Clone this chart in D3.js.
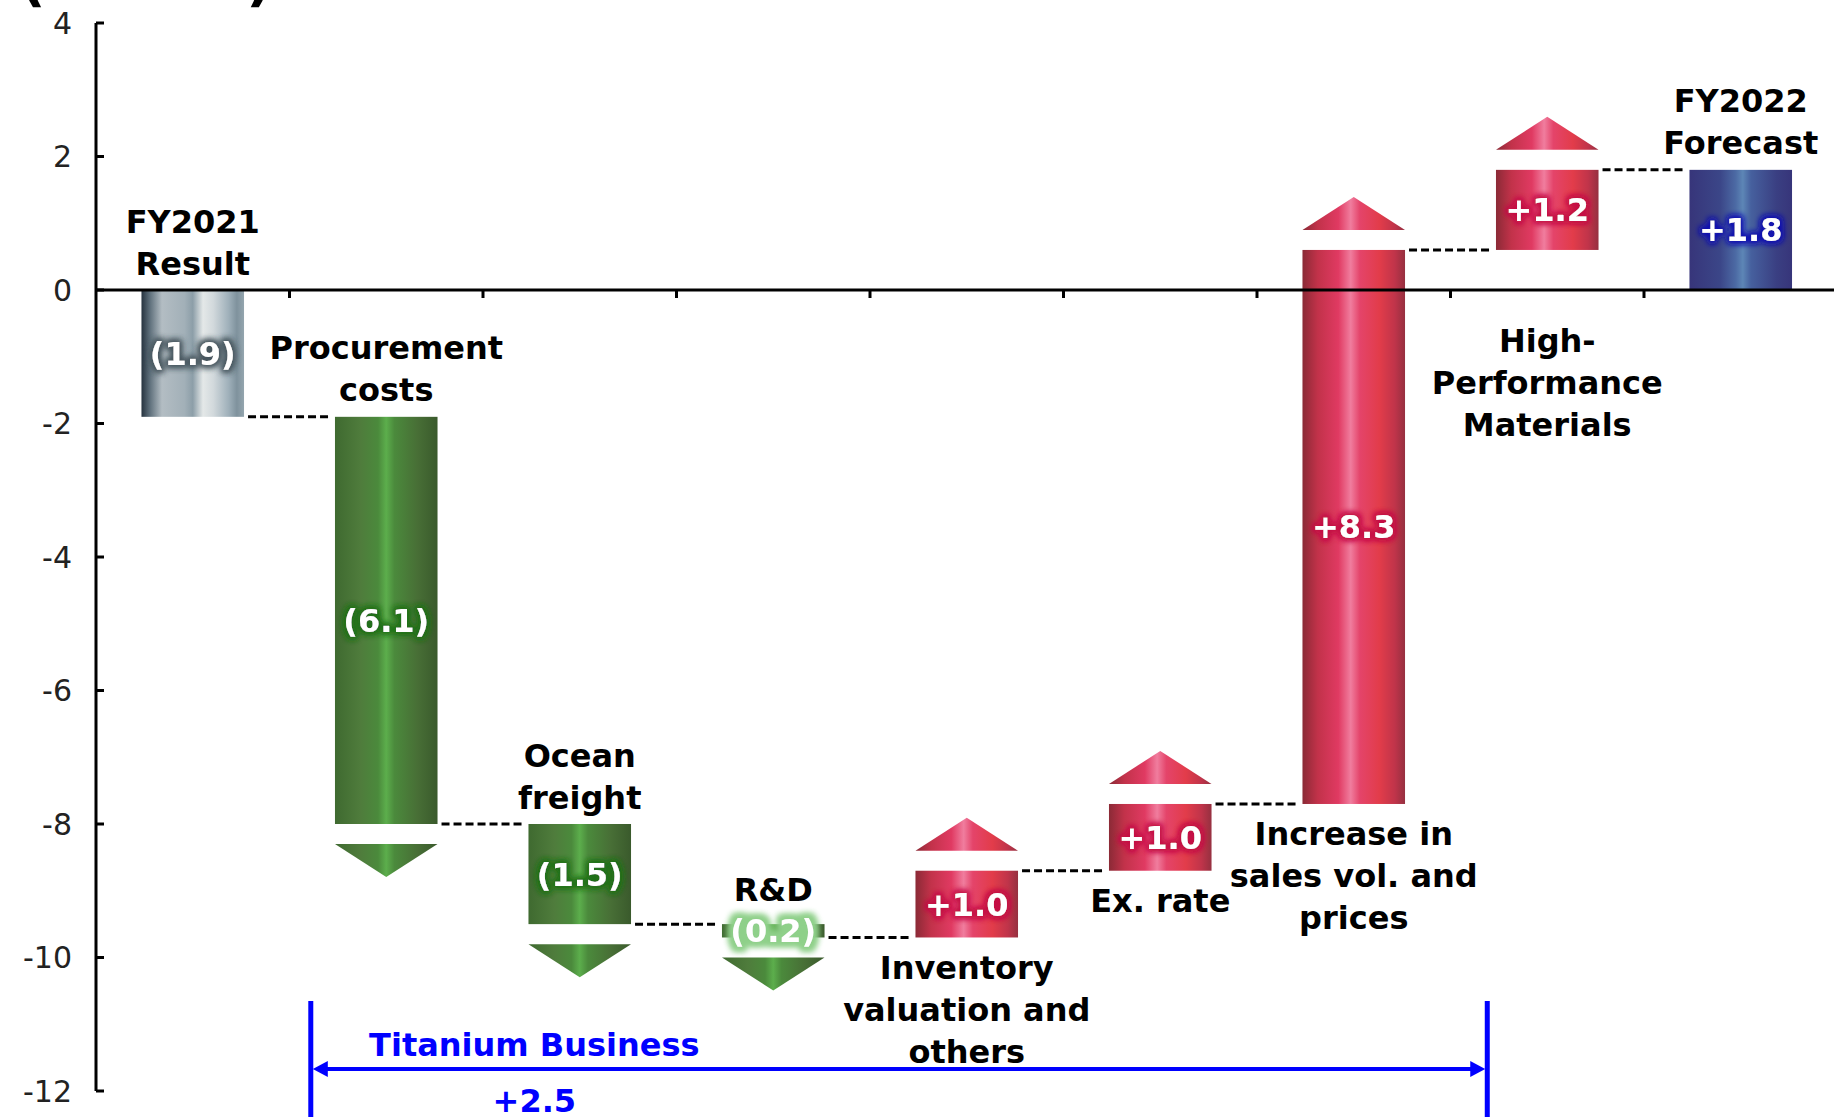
<!DOCTYPE html>
<html>
<head>
<meta charset="utf-8">
<script src="https://cdn.jsdelivr.net/npm/d3@7"></script>
<style>
  html, body { margin: 0; padding: 0; background: #fff; }
  svg { display: block; }
</style>
</head>
<body>
<div id="chart"></div>
<script>
// waterfall data (billion yen)
const categories = [
  "FY2021|Result",
  "Procurement|costs",
  "Ocean|freight",
  "R&D",
  "Inventory|valuation and|others",
  "Ex. rate",
  "Increase in|sales vol. and|prices",
  "High-|Performance|Materials",
  "FY2022|Forecast"
];
const deltas = [-1.9, -6.1, -1.5, -0.2, 1.0, 1.0, 8.3, 1.2, 1.8];
const kinds = ["result", "down", "down", "down", "up", "up", "up", "up", "forecast"];
const valueLabels = ["(1.9)", "(6.1)", "(1.5)", "(0.2)", "+1.0", "+1.0", "+8.3", "+1.2", "+1.8"];
const yTicks = [4, 2, 0, -2, -4, -6, -8, -10, -12];
const titaniumItems = ["Procurement|costs", "Ocean|freight", "R&D", "Inventory|valuation and|others", "Ex. rate", "Increase in|sales vol. and|prices"];

const width = 1834, height = 1117;
const marginLeft = 96, marginTop = 23;

// build start / end for each bar
let run = 0;
const bars = categories.map((c, i) => {
  let start, end;
  if (kinds[i] === "result" || kinds[i] === "forecast") {
    start = 0; end = deltas[i];
  } else {
    start = run; end = run + deltas[i];
  }
  run = end;
  return { cat: c, kind: kinds[i], start, end, label: valueLabels[i], i };
});

const x = d3.scaleBand().domain(categories).range([marginLeft, marginLeft + 193.5 * categories.length]).paddingInner(0).paddingOuter(0);
const y = d3.scaleLinear().domain([4, -12]).range([marginTop, marginTop + 66.75 * 16]);
const step = x.step();
const barW = step * 0.53;
const bx = d => x(d.cat) + (step - barW) / 2;

const svg = d3.select("#chart").append("svg")
  .attr("width", width)
  .attr("height", height)
  .attr("font-family", "'DejaVu Sans', Verdana, sans-serif");

const defs = svg.append("defs");

// cylinder-like gradients
const grads = {
  gray: [[0, "#26333f"], [0.08, "#5d6e7a"], [0.2, "#b3bdc3"], [0.42, "#a2b0b8"], [0.5, "#8c9ea8"], [0.6, "#e4e8e8"], [0.7, "#d2d9dc"], [0.85, "#9fb0ba"], [0.93, "#7f929d"], [1, "#94a5ae"]],
  green: [[0, "#3f6a30"], [0.25, "#4f7c3c"], [0.42, "#4b8a3c"], [0.5, "#5cae4c"], [0.58, "#4b8a3c"], [0.8, "#486f36"], [1, "#3a5a2c"]],
  red: [[0, "#8b2a36"], [0.15, "#c2324a"], [0.35, "#e03a62"], [0.47, "#f07d9e"], [0.56, "#e4446a"], [0.75, "#e23c4a"], [0.9, "#c0344a"], [1, "#963040"]],
  blue: [[0, "#37357a"], [0.3, "#3b4688"], [0.45, "#4c6aa4"], [0.52, "#5d86b6"], [0.6, "#46609e"], [0.85, "#3a3f82"], [1, "#37357a"]]
};
Object.entries(grads).forEach(([k, stops]) => {
  const g = defs.append("linearGradient").attr("id", "g-" + k)
    .attr("x1", 0).attr("x2", 1).attr("y1", 0).attr("y2", 0);
  stops.forEach(s => g.append("stop").attr("offset", s[0]).attr("stop-color", s[1]));
});

// glow filters for value labels
const glows = { gray: ["#48575f", 2, 3], green: ["#22701a", 2, 3], lightgreen: ["#8fd08a", 4, 3], red: ["#c40f45", 2, 3], blue: ["#1515b0", 2, 3] };
Object.entries(glows).forEach(([k, [col, r, sd]]) => {
  const f = defs.append("filter").attr("id", "glow-" + k)
    .attr("x", "-40%").attr("y", "-60%").attr("width", "180%").attr("height", "220%");
  f.append("feMorphology").attr("in", "SourceAlpha").attr("operator", "dilate").attr("radius", r).attr("result", "d");
  f.append("feGaussianBlur").attr("in", "d").attr("stdDeviation", sd).attr("result", "b");
  f.append("feFlood").attr("flood-color", col);
  f.append("feComposite").attr("in2", "b").attr("operator", "in").attr("result", "gl");
  const m = f.append("feMerge");
  m.append("feMergeNode").attr("in", "gl");
  m.append("feMergeNode").attr("in", "gl");
  m.append("feMergeNode").attr("in", "SourceGraphic");
});

const colorOf = d => d.kind === "result" ? "gray" : d.kind === "forecast" ? "blue" : d.kind === "up" ? "red" : "green";

// bars
svg.append("g").selectAll("rect").data(bars).join("rect")
  .attr("x", bx)
  .attr("width", barW)
  .attr("y", d => y(Math.max(d.start, d.end)))
  .attr("height", d => Math.abs(y(d.start) - y(d.end)))
  .attr("fill", d => `url(#g-${colorOf(d)})`);

// arrow heads for changes
const gap = 20, headH = 33;
svg.append("g").selectAll("path").data(bars.filter(d => d.kind === "up" || d.kind === "down")).join("path")
  .attr("d", d => {
    const l = bx(d), r = l + barW, c = l + barW / 2;
    if (d.kind === "down") {
      const t = y(d.end) + gap;
      return `M${l},${t}L${r},${t}L${c},${t + headH}Z`;
    }
    const b = y(d.end) - gap;
    return `M${l},${b}L${r},${b}L${c},${b - headH}Z`;
  })
  .attr("fill", d => `url(#g-${colorOf(d)})`);

// dashed connectors
svg.append("g").selectAll("line").data(bars.slice(0, -1)).join("line")
  .attr("x1", d => bx(d) + barW + 4)
  .attr("x2", d => bx(bars[d.i + 1]) - 4)
  .attr("y1", d => y(d.end))
  .attr("y2", d => y(d.end))
  .attr("stroke", "#000")
  .attr("stroke-width", 3)
  .attr("stroke-dasharray", "8,4");

// axes
const axisG = svg.append("g").attr("stroke", "#000").attr("stroke-width", 3);
axisG.append("line").attr("x1", marginLeft).attr("x2", marginLeft).attr("y1", y(4)).attr("y2", y(-12));
axisG.append("line").attr("x1", marginLeft).attr("x2", width).attr("y1", y(0)).attr("y2", y(0));
axisG.selectAll(".yt").data(yTicks).join("line").attr("class", "yt")
  .attr("x1", marginLeft).attr("x2", marginLeft + 8).attr("y1", d => y(d)).attr("y2", d => y(d));
axisG.selectAll(".xt").data(categories.slice(1)).join("line").attr("class", "xt")
  .attr("x1", d => x(d)).attr("x2", d => x(d)).attr("y1", y(0)).attr("y2", y(0) + 8);

svg.append("g").selectAll("text").data(yTicks).join("text")
  .attr("x", marginLeft - 24)
  .attr("y", d => y(d))
  .attr("dy", "0.36em")
  .attr("text-anchor", "end")
  .attr("font-family", "'DejaVu Sans', sans-serif")
  .attr("font-size", 30)
  .attr("fill", "#222")
  .text(d => d < 0 ? "-" + Math.abs(d) : d);

// unit caption, cut off at the top edge as in the original
const cap = svg.append("text").attr("x", 20).attr("y", 0)
  .attr("font-size", 34).attr("font-weight", "bold");
cap.append("tspan").attr("font-size", 56).text("(");
cap.append("tspan").text("Billion Yen");
cap.append("tspan").attr("font-size", 56).text(")");

// value labels inside bars
svg.append("g").selectAll("text").data(bars).join("text")
  .attr("x", d => bx(d) + barW / 2)
  .attr("y", d => (y(d.start) + y(d.end)) / 2)
  .attr("dy", "0.36em")
  .attr("text-anchor", "middle")
  .attr("font-size", 32)
  .attr("font-weight", "bold")
  .attr("fill", "#fff")
  .attr("filter", d => d.cat === "R&D" ? "url(#glow-lightgreen)" : `url(#glow-${colorOf(d)})`)
  .text(d => d.label);

// category labels: above the top of falling / total bars, below rising ones
const lineH = 42;
const catG = svg.append("g").attr("font-size", 32).attr("font-weight", "bold").attr("text-anchor", "middle").attr("fill", "#000");
bars.forEach(d => {
  const lines = d.cat.split("|");
  const cx = bx(d) + barW / 2;
  let y0;
  if (d.kind === "up") {
    y0 = Math.max(y(Math.min(d.start, d.end)), y(0) + 20) + 30;
  } else {
    const top = y(Math.max(d.start, d.end));
    const mid = (y(d.start) + y(d.end)) / 2;
    y0 = Math.min(top - 27, mid - 41) - (lines.length - 1) * lineH;
  }
  lines.forEach((t, k) => {
    catG.append("text").attr("x", cx).attr("y", y0 + k * lineH).attr("dy", "0.36em").text(t);
  });
});

// Titanium Business bracket
const tiLeft = x(titaniumItems[0]) + step * 0.11;
const tiRight = x("High-|Performance|Materials") + step * 0.19;
const tiY = 1069;
const tiSum = d3.sum(titaniumItems, c => deltas[categories.indexOf(c)]);
const blue = "#0000ff";
const br = svg.append("g");
br.append("line").attr("x1", tiLeft).attr("x2", tiLeft).attr("y1", 1001).attr("y2", height).attr("stroke", blue).attr("stroke-width", 5);
br.append("line").attr("x1", tiRight).attr("x2", tiRight).attr("y1", 1001).attr("y2", height).attr("stroke", blue).attr("stroke-width", 5);
br.append("line").attr("x1", tiLeft + 10).attr("x2", tiRight - 10).attr("y1", tiY).attr("y2", tiY).attr("stroke", blue).attr("stroke-width", 4);
br.append("path").attr("d", `M${tiLeft + 2},${tiY}L${tiLeft + 17},${tiY - 8}L${tiLeft + 17},${tiY + 8}Z`).attr("fill", blue);
br.append("path").attr("d", `M${tiRight - 2},${tiY}L${tiRight - 17},${tiY - 8}L${tiRight - 17},${tiY + 8}Z`).attr("fill", blue);
const tiX = tiLeft + (tiRight - tiLeft) * 0.19;
br.append("text").attr("x", tiX).attr("y", 1044).attr("dy", "0.36em")
  .attr("text-anchor", "middle").attr("font-size", 32).attr("font-weight", "bold").attr("fill", blue)
  .text("Titanium Business");
br.append("text").attr("x", tiX).attr("y", 1100).attr("dy", "0.36em")
  .attr("text-anchor", "middle").attr("font-size", 32).attr("font-weight", "bold").attr("fill", blue)
  .text("+" + tiSum.toFixed(1));
</script>
</body>
</html>
